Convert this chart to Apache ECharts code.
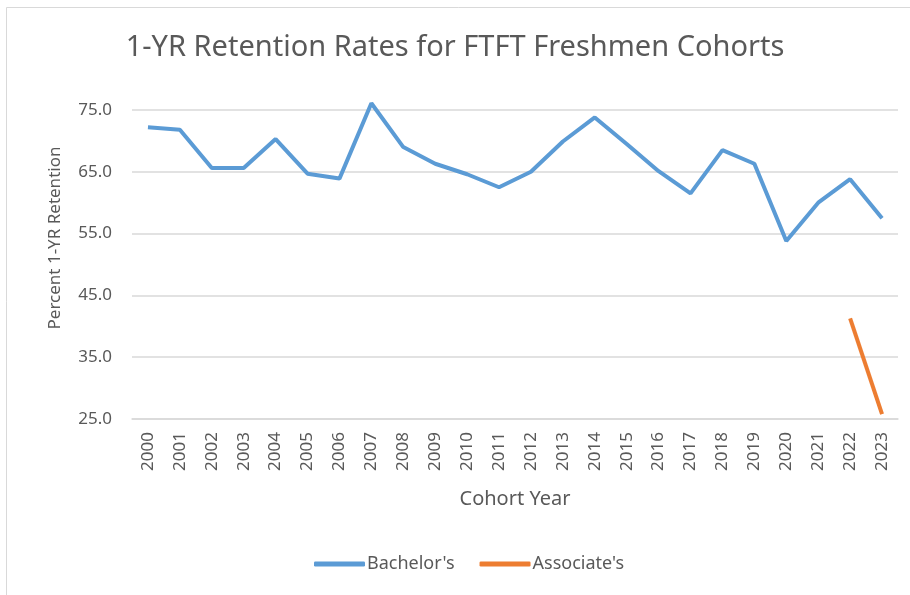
<!DOCTYPE html>
<html>
<head>
<meta charset="utf-8">
<script src="https://cdn.jsdelivr.net/npm/echarts@6/dist/echarts.min.js"></script>
<style>
  html, body { margin: 0; padding: 0; background: #fff; }
  #chart { width: 910px; height: 595px; }
</style>
</head>
<body>
<div id="chart"></div>
<script>
// cohort years on the x axis
const years = ['2000', '2001', '2002', '2003', '2004', '2005', '2006', '2007', '2008', '2009',
  '2010', '2011', '2012', '2013', '2014', '2015', '2016', '2017', '2018', '2019',
  '2020', '2021', '2022', '2023'];

// 1-yr retention, percent
const bachelors = [72.2, 71.8, 65.6, 65.6, 70.3, 64.7, 63.9, 76.1, 69.0, 66.3,
  64.6, 62.5, 65.0, 69.9, 73.8, 69.5, 65.1, 61.5, 68.5, 66.3,
  53.8, 60.0, 63.8, 57.5];
const associates = [null, null, null, null, null, null, null, null, null, null,
  null, null, null, null, null, null, null, null, null, null,
  null, null, 41.3, 25.8];

const yTicks = [25, 35, 45, 55, 65, 75];

const font = 'Noto Sans';
const grey = '#595959';

const myChart = echarts.init(document.getElementById('chart'));

const options = {
  backgroundColor: '#fff',
  animation: false,
  textStyle: { fontFamily: font },
  title: {
    text: '1-YR Retention Rates for FTFT Freshmen Cohorts',
    left: 'center',
    top: 28,
    textStyle: { fontFamily: font, fontSize: 29, fontWeight: 'normal', color: grey }
  },
  grid: { left: 132, right: 12, top: 110, bottom: 176 },
  legend: {
    bottom: 17,
    left: 309,
    icon: 'roundRect',
    itemWidth: 51,
    itemHeight: 5,
    itemGap: 25,
    textStyle: { fontFamily: font, fontSize: 18, color: grey, padding: [0, 0, 0, -3] },
    data: ["Bachelor's", "Associate's"]
  },
  xAxis: {
    type: 'category',
    data: years,
    boundaryGap: true,
    name: 'Cohort Year',
    nameLocation: 'middle',
    nameGap: 70,
    nameTextStyle: { fontFamily: font, fontSize: 20, color: grey },
    axisLine: { show: true, lineStyle: { color: '#d9d9d9', width: 1.5 } },
    axisTick: { show: false },
    axisLabel: { rotate: 90, margin: 13, fontFamily: font, fontSize: 17, color: grey, interval: 0 }
  },
  yAxis: {
    type: 'value',
    min: yTicks[0],
    max: yTicks[yTicks.length - 1],
    interval: 10,
    axisLine: { show: false },
    axisTick: { show: false },
    axisLabel: {
      margin: 20,
      fontFamily: font, fontSize: 17, color: grey,
      formatter: v => v.toFixed(1)
    },
    splitLine: { lineStyle: { color: '#d9d9d9', width: 1.5 } }
  },
  graphic: [
    {
      type: 'rect',
      shape: { x: 6.5, y: 7.5, width: 1000, height: 1000 },
      style: { fill: 'none', stroke: '#d9d9d9', lineWidth: 1 },
      silent: true
    },
    {
      type: 'text',
      x: 55,
      y: 238,
      rotation: Math.PI / 2,
      style: {
        text: 'Percent 1-YR Retention',
        fontFamily: font, fontSize: 17, fill: grey,
        align: 'center', verticalAlign: 'middle'
      }
    }
  ],
  series: [
    {
      name: "Bachelor's",
      type: 'line',
      data: bachelors,
      showSymbol: false,
      symbol: 'none',
      clip: false,
      lineStyle: { color: '#5B9BD5', width: 4 },
      itemStyle: { color: '#5B9BD5' }
    },
    {
      name: "Associate's",
      type: 'line',
      data: associates,
      showSymbol: false,
      symbol: 'none',
      clip: false,
      lineStyle: { color: '#ED7D31', width: 4 },
      itemStyle: { color: '#ED7D31' }
    }
  ]
};

myChart.setOption(options);
</script>
</body>
</html>
